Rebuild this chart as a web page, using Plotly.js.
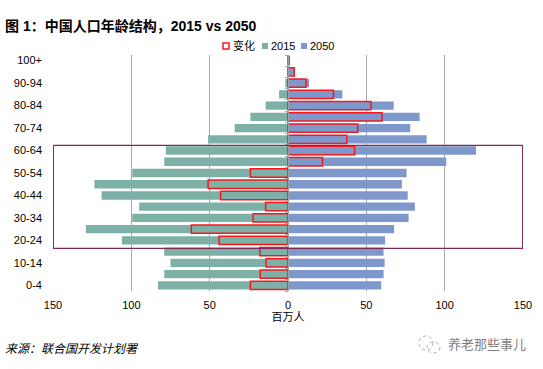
<!DOCTYPE html>
<html><head><meta charset="utf-8"><script src="https://cdn.plot.ly/plotly-3.0.1.min.js"></script>
<style>html,body{margin:0;padding:0;background:#fff}</style></head><body><div id="c" style="width:543px;height:369px"></div>
<script>
const ages=['0-4','5-9','10-14','15-19','20-24','25-29','30-34','35-39','40-44','45-49','50-54','55-59','60-64','65-69','70-74','75-79','80-84','85-89','90-94','95-99','100+'];
const shownAges=['0-4','10-14','20-24','30-34','40-44','50-54','60-64','70-74','80-84','90-94','100+'];
const pop2015=[-83,-79,-75,-79,-106,-129,-99.4,-95,-119,-123.6,-99.4,-79,-78,-51,-34,-24,-14.3,-5.7,-1.7,-0.3,-0.1];
const pop2050=[59.5,61,61.7,61,62,67.7,77,81,76.4,72.7,75.7,101,120,88.5,78,84,67.5,34.7,13.4,4,0.8];
const change=[-24,-17.7,-14,-18,-44,-61.7,-22.3,-14.3,-43,-51,-24,22,42.5,37.5,44.5,60,53,29,11.5,4,0.7];
const xTicks=[-150,-100,-50,0,50,100,150];
const xLabels=['150','100','50','0','50','100','150'];
const latin='Arial, "Liberation Sans", "Noto Sans CJK SC", sans-serif';
const W=543,H=369,L=53,R=20,T=55,B=78;
const px=v=>(v-L)/(W-L-R), py=v=>(H-B-v)/(H-T-B);
const legendItems=[
 {text:'变化',sx:223,tx:231,fill:'rgba(0,0,0,0)',line:'#f5191e',lw:1.5},
 {text:'2015',sx:262,tx:269,fill:'#7db1a7',line:'#7db1a7',lw:0},
 {text:'2050',sx:301,tx:308,fill:'#7f98cb',line:'#7f98cb',lw:0}
];
const traces=[
 {type:'bar',orientation:'h',name:'2015',x:pop2015,y:ages,width:0.74,marker:{color:'#7db1a7',line:{width:0}},hoverinfo:'skip'},
 {type:'bar',orientation:'h',name:'2050',x:pop2050,y:ages,width:0.74,marker:{color:'#7f98cb',line:{width:0}},hoverinfo:'skip'},
 {type:'bar',orientation:'h',name:'变化',x:change,y:ages,width:0.74,marker:{color:'rgba(0,0,0,0)',line:{color:'#f5191e',width:1.5}},hoverinfo:'skip'},
 {type:'scatter',mode:'none',x:[0],y:[0],yaxis:'y2',showlegend:false,hoverinfo:'skip'}
];
const shapes=[
 {type:'rect',xref:'x',yref:'y',x0:-149.8,x1:149.8,y0:3.3,y1:12.45,line:{color:'#7b2a58',width:1.3},fillcolor:'rgba(0,0,0,0)',layer:'above'},
 {type:'circle',xref:'paper',yref:'paper',x0:px(419),x1:px(433),y0:py(350),y1:py(336),line:{color:'#a8a8a8',width:1,dash:'dot'}},
 {type:'circle',xref:'paper',yref:'paper',x0:px(427),x1:px(440),y0:py(353),y1:py(342),line:{color:'#a8a8a8',width:1,dash:'dot'}}
];
const annotations=[
 {xref:'paper',yref:'paper',x:px(3),xanchor:'left',y:py(26),yanchor:'middle',showarrow:false,text:'<b>图 1：中国人口年龄结构，2015 vs 2050</b>',font:{size:14,color:'#000',family:latin}},
 {xref:'paper',yref:'paper',x:px(3),xanchor:'left',y:py(349),yanchor:'middle',showarrow:false,text:'<i>来源：联合国开发计划署</i>',font:{size:12,color:'#000',family:latin}},
 {xref:'paper',yref:'paper',x:px(528),xanchor:'right',y:py(344),yanchor:'middle',showarrow:false,text:'养老那些事儿',font:{size:13,color:'#808080',family:latin}}
];
legendItems.forEach(it=>{
 shapes.push({type:'rect',xref:'paper',yref:'paper',x0:px(it.sx),x1:px(it.sx+6),y0:py(49),y1:py(43),fillcolor:it.fill,line:{color:it.line,width:it.lw}});
 annotations.push({xref:'paper',yref:'paper',x:px(it.tx),xanchor:'left',y:py(45.5),yanchor:'middle',showarrow:false,text:it.text,font:{size:11,color:'#000',family:latin}});
});
const layout={
 width:W,height:H,paper_bgcolor:'#fff',plot_bgcolor:'#fff',
 margin:{l:L,r:R,t:T,b:B},
 barmode:'overlay',bargap:0.26,
 font:{family:latin,size:11,color:'#000'},
 showlegend:false,
 xaxis:{range:[-150,150],tickmode:'array',tickvals:xTicks,ticktext:xLabels,showgrid:true,gridcolor:'#a8a8a8',gridwidth:1,zeroline:false,showline:false,ticks:'',tickfont:{size:11},ticklabelstandoff:6,title:{text:'百万人',font:{size:11},standoff:0}},
 yaxis:{type:'category',categoryorder:'array',categoryarray:ages,range:[-0.5,20.5],tickmode:'array',tickvals:shownAges,ticktext:shownAges,showgrid:false,zeroline:false,showline:false,ticks:'',tickfont:{size:11},ticklabelstandoff:10},
 yaxis2:{overlaying:'y',anchor:'free',position:0.5,side:'left',range:[-0.5,20.5],tick0:-0.5,dtick:1,showgrid:false,zeroline:false,showline:true,linecolor:'#a0a0a0',linewidth:1,ticks:'outside',ticklen:3,tickcolor:'#a0a0a0',showticklabels:false},
 shapes,annotations
};
Plotly.newPlot('c',traces,layout,{displayModeBar:false,staticPlot:true});
</script></body></html>
